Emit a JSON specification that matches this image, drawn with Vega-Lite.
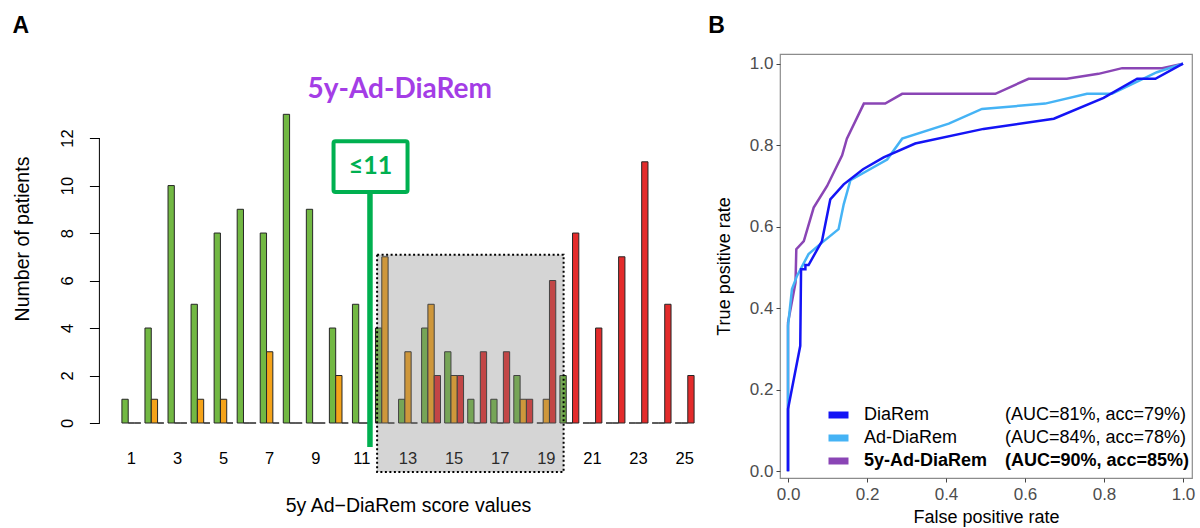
{
  "$schema": "https://vega.github.io/schema/vega-lite/v6.json",
  "background": "white",
  "padding": {"left": 12, "top": 14, "right": 0, "bottom": 0},
  "config": {"view": {"stroke": null}, "font": "Liberation Sans"},
  "spacing": 6,
  "resolve": {"scale": {"color": "independent", "shape": "independent"}, "legend": {"color": "independent", "shape": "independent"}},
  "hconcat": [
    {
      "width": 586,
      "height": 369,
      "title": {"text": "A", "anchor": "start", "frame": "bounds", "fontSize": 23, "fontWeight": "bold", "font": "Liberation Sans", "color": "black", "offset": 16},
      "data": {"values": [
        {"score": 1, "outcome": "Complete remission", "patients": 1}, {"score": 1, "outcome": "Partial remission", "patients": 0}, {"score": 1, "outcome": "No remission", "patients": 0},
        {"score": 2, "outcome": "Complete remission", "patients": 4}, {"score": 2, "outcome": "Partial remission", "patients": 1}, {"score": 2, "outcome": "No remission", "patients": 0},
        {"score": 3, "outcome": "Complete remission", "patients": 10}, {"score": 3, "outcome": "Partial remission", "patients": 0}, {"score": 3, "outcome": "No remission", "patients": 0},
        {"score": 4, "outcome": "Complete remission", "patients": 5}, {"score": 4, "outcome": "Partial remission", "patients": 1}, {"score": 4, "outcome": "No remission", "patients": 0},
        {"score": 5, "outcome": "Complete remission", "patients": 8}, {"score": 5, "outcome": "Partial remission", "patients": 1}, {"score": 5, "outcome": "No remission", "patients": 0},
        {"score": 6, "outcome": "Complete remission", "patients": 9}, {"score": 6, "outcome": "Partial remission", "patients": 0}, {"score": 6, "outcome": "No remission", "patients": 0},
        {"score": 7, "outcome": "Complete remission", "patients": 8}, {"score": 7, "outcome": "Partial remission", "patients": 3}, {"score": 7, "outcome": "No remission", "patients": 0},
        {"score": 8, "outcome": "Complete remission", "patients": 13}, {"score": 8, "outcome": "Partial remission", "patients": 0}, {"score": 8, "outcome": "No remission", "patients": 0},
        {"score": 9, "outcome": "Complete remission", "patients": 9}, {"score": 9, "outcome": "Partial remission", "patients": 0}, {"score": 9, "outcome": "No remission", "patients": 0},
        {"score": 10, "outcome": "Complete remission", "patients": 4}, {"score": 10, "outcome": "Partial remission", "patients": 2}, {"score": 10, "outcome": "No remission", "patients": 0},
        {"score": 11, "outcome": "Complete remission", "patients": 5}, {"score": 11, "outcome": "Partial remission", "patients": 0}, {"score": 11, "outcome": "No remission", "patients": 0},
        {"score": 12, "outcome": "Complete remission", "patients": 4}, {"score": 12, "outcome": "Partial remission", "patients": 7}, {"score": 12, "outcome": "No remission", "patients": 0},
        {"score": 13, "outcome": "Complete remission", "patients": 1}, {"score": 13, "outcome": "Partial remission", "patients": 3}, {"score": 13, "outcome": "No remission", "patients": 0},
        {"score": 14, "outcome": "Complete remission", "patients": 4}, {"score": 14, "outcome": "Partial remission", "patients": 5}, {"score": 14, "outcome": "No remission", "patients": 2},
        {"score": 15, "outcome": "Complete remission", "patients": 3}, {"score": 15, "outcome": "Partial remission", "patients": 2}, {"score": 15, "outcome": "No remission", "patients": 2},
        {"score": 16, "outcome": "Complete remission", "patients": 1}, {"score": 16, "outcome": "Partial remission", "patients": 0}, {"score": 16, "outcome": "No remission", "patients": 3},
        {"score": 17, "outcome": "Complete remission", "patients": 1}, {"score": 17, "outcome": "Partial remission", "patients": 0}, {"score": 17, "outcome": "No remission", "patients": 3},
        {"score": 18, "outcome": "Complete remission", "patients": 2}, {"score": 18, "outcome": "Partial remission", "patients": 1}, {"score": 18, "outcome": "No remission", "patients": 1},
        {"score": 19, "outcome": "Complete remission", "patients": 0}, {"score": 19, "outcome": "Partial remission", "patients": 1}, {"score": 19, "outcome": "No remission", "patients": 6},
        {"score": 20, "outcome": "Complete remission", "patients": 2}, {"score": 20, "outcome": "Partial remission", "patients": 0}, {"score": 20, "outcome": "No remission", "patients": 8},
        {"score": 21, "outcome": "Complete remission", "patients": 0}, {"score": 21, "outcome": "Partial remission", "patients": 0}, {"score": 21, "outcome": "No remission", "patients": 4},
        {"score": 22, "outcome": "Complete remission", "patients": 0}, {"score": 22, "outcome": "Partial remission", "patients": 0}, {"score": 22, "outcome": "No remission", "patients": 7},
        {"score": 23, "outcome": "Complete remission", "patients": 0}, {"score": 23, "outcome": "Partial remission", "patients": 0}, {"score": 23, "outcome": "No remission", "patients": 11},
        {"score": 24, "outcome": "Complete remission", "patients": 0}, {"score": 24, "outcome": "Partial remission", "patients": 0}, {"score": 24, "outcome": "No remission", "patients": 5},
        {"score": 25, "outcome": "Complete remission", "patients": 0}, {"score": 25, "outcome": "Partial remission", "patients": 0}, {"score": 25, "outcome": "No remission", "patients": 2}
      ]},
      "resolve": {"scale": {"x": "independent"}, "axis": {"x": "independent"}},
      "layer": [
        {
          "mark": {"type": "bar", "stroke": "#262626", "strokeWidth": 1},
          "encoding": {
            "x": {"field": "score", "type": "ordinal",
              "scale": {"paddingInner": 0.18, "paddingOuter": 0.3},
              "axis": {"values": [1, 3, 5, 7, 9, 11, 13, 15, 17, 19, 21, 23, 25], "labelAngle": 0, "domain": false, "ticks": false, "labelPadding": 27, "labelFontSize": 16.5, "labelColor": "black", "labelFont": "Liberation Sans",
                "title": "5y Ad−DiaRem score values", "titleFontSize": 19.5, "titleFontWeight": "normal", "titleColor": "black", "titleFont": "Liberation Sans", "titlePadding": 30}},
            "xOffset": {"field": "outcome", "type": "nominal", "scale": {"domain": ["Complete remission", "Partial remission", "No remission"], "paddingInner": 0, "paddingOuter": 0}},
            "y": {"field": "patients", "type": "quantitative",
              "scale": {"domain": [0, 15.54], "nice": false, "zero": false},
              "axis": {"values": [0, 2, 4, 6, 8, 10, 12], "domain": false, "grid": false, "tickSize": 10, "tickColor": "black", "offset": 15.6,
                "labelAngle": -90, "labelAlign": "center", "labelBaseline": "bottom", "labelPadding": 14, "labelFontSize": 16.5, "labelColor": "black", "labelFont": "Liberation Sans",
                "title": "Number of patients", "titleFontSize": 19.5, "titleFontWeight": "normal", "titleColor": "black", "titleFont": "Liberation Sans", "titlePadding": 27}},
            "color": {"field": "outcome", "type": "nominal", "scale": {"domain": ["Complete remission", "Partial remission", "No remission"], "range": ["#72b843", "#f5a31a", "#e32b2b"]}, "legend": null}
          }
        },
        {
          "data": {"values": [{}]},
          "mark": {"type": "rect", "fill": "#808080", "fillOpacity": 0.33, "stroke": "black", "strokeWidth": 2, "strokeDash": [2, 2.5]},
          "encoding": {
            "x": {"datum": 11.66, "type": "quantitative", "scale": {"domain": [0.29, 25.71], "nice": false, "zero": false}, "axis": null},
            "x2": {"datum": 19.75},
            "y": {"datum": 7.09, "type": "quantitative"},
            "y2": {"datum": -2.06}
          }
        },
        {
          "data": {"values": [{}]},
          "mark": {"type": "rule", "color": "black", "strokeWidth": 1},
          "encoding": {
            "x": {"datum": -0.387, "type": "quantitative", "scale": {"domain": [0.29, 25.71], "nice": false, "zero": false}, "axis": null},
            "y": {"datum": 0, "type": "quantitative"},
            "y2": {"datum": 12}
          }
        },
        {
          "data": {"values": [{}]},
          "mark": {"type": "rule", "color": "#00b050", "strokeWidth": 5.5},
          "encoding": {
            "x": {"datum": 11.35, "type": "quantitative", "scale": {"domain": [0.29, 25.71], "nice": false, "zero": false}, "axis": null},
            "y": {"datum": 9.73, "type": "quantitative"},
            "y2": {"datum": -1.01}
          }
        },
        {
          "data": {"values": [{}]},
          "mark": {"type": "rect", "fill": "white", "stroke": "#00b050", "strokeWidth": 4, "cornerRadius": 2},
          "encoding": {
            "x": {"datum": 9.77, "type": "quantitative", "scale": {"domain": [0.29, 25.71], "nice": false, "zero": false}, "axis": null},
            "x2": {"datum": 12.98},
            "y": {"datum": 11.87, "type": "quantitative"},
            "y2": {"datum": 9.73}
          }
        },
        {
          "data": {"values": [{"label": "≤11"}]},
          "mark": {"type": "text", "font": "Lato", "fontWeight": "bold", "fontSize": 25, "color": "#00b050", "align": "center", "baseline": "middle"},
          "encoding": {
            "x": {"datum": 11.37, "type": "quantitative", "scale": {"domain": [0.29, 25.71], "nice": false, "zero": false}, "axis": null},
            "y": {"datum": 10.82, "type": "quantitative"},
            "text": {"field": "label"}
          }
        },
        {
          "data": {"values": [{"label": "5y-Ad-DiaRem"}]},
          "mark": {"type": "text", "font": "Lato", "fontWeight": "bold", "fontSize": 28, "color": "#a43de6", "align": "center", "baseline": "middle"},
          "encoding": {
            "x": {"datum": 12.64, "type": "quantitative", "scale": {"domain": [0.29, 25.71], "nice": false, "zero": false}, "axis": null},
            "y": {"datum": 14.02, "type": "quantitative"},
            "text": {"field": "label"}
          }
        }
      ]
    },
    {
      "width": 412,
      "height": 424,
      "title": {"text": "B", "anchor": "start", "frame": "bounds", "fontSize": 23, "fontWeight": "bold", "font": "Liberation Sans", "color": "black", "offset": 16, "dx": -7},
      "view": {"stroke": "#8c8c8c", "strokeWidth": 1.2},
      "resolve": {"scale": {"color": "independent", "shape": "independent"}, "legend": {"color": "independent", "shape": "independent"}},
      "layer": [
        {
          "data": {"values": [
            {"model": "5y-Ad-DiaRem", "k": 1, "fpr": 0, "tpr": 0},
            {"model": "5y-Ad-DiaRem", "k": 2, "fpr": 0, "tpr": 0.365},
            {"model": "5y-Ad-DiaRem", "k": 3, "fpr": 0.019, "tpr": 0.463},
            {"model": "5y-Ad-DiaRem", "k": 4, "fpr": 0.021, "tpr": 0.545},
            {"model": "5y-Ad-DiaRem", "k": 5, "fpr": 0.04, "tpr": 0.565},
            {"model": "5y-Ad-DiaRem", "k": 6, "fpr": 0.065, "tpr": 0.647},
            {"model": "5y-Ad-DiaRem", "k": 7, "fpr": 0.099, "tpr": 0.7},
            {"model": "5y-Ad-DiaRem", "k": 8, "fpr": 0.137, "tpr": 0.775},
            {"model": "5y-Ad-DiaRem", "k": 9, "fpr": 0.149, "tpr": 0.816},
            {"model": "5y-Ad-DiaRem", "k": 10, "fpr": 0.192, "tpr": 0.902},
            {"model": "5y-Ad-DiaRem", "k": 11, "fpr": 0.246, "tpr": 0.902},
            {"model": "5y-Ad-DiaRem", "k": 12, "fpr": 0.289, "tpr": 0.926},
            {"model": "5y-Ad-DiaRem", "k": 13, "fpr": 0.525, "tpr": 0.926},
            {"model": "5y-Ad-DiaRem", "k": 14, "fpr": 0.609, "tpr": 0.963},
            {"model": "5y-Ad-DiaRem", "k": 15, "fpr": 0.706, "tpr": 0.963},
            {"model": "5y-Ad-DiaRem", "k": 16, "fpr": 0.786, "tpr": 0.975},
            {"model": "5y-Ad-DiaRem", "k": 17, "fpr": 0.846, "tpr": 0.989},
            {"model": "5y-Ad-DiaRem", "k": 18, "fpr": 0.947, "tpr": 0.989},
            {"model": "5y-Ad-DiaRem", "k": 19, "fpr": 1, "tpr": 1},
            {"model": "Ad-DiaRem", "k": 1, "fpr": 0, "tpr": 0},
            {"model": "Ad-DiaRem", "k": 2, "fpr": 0, "tpr": 0.357},
            {"model": "Ad-DiaRem", "k": 3, "fpr": 0.01, "tpr": 0.447},
            {"model": "Ad-DiaRem", "k": 4, "fpr": 0.023, "tpr": 0.48},
            {"model": "Ad-DiaRem", "k": 5, "fpr": 0.052, "tpr": 0.533},
            {"model": "Ad-DiaRem", "k": 6, "fpr": 0.086, "tpr": 0.561},
            {"model": "Ad-DiaRem", "k": 7, "fpr": 0.128, "tpr": 0.594},
            {"model": "Ad-DiaRem", "k": 8, "fpr": 0.141, "tpr": 0.655},
            {"model": "Ad-DiaRem", "k": 9, "fpr": 0.158, "tpr": 0.714},
            {"model": "Ad-DiaRem", "k": 10, "fpr": 0.251, "tpr": 0.765},
            {"model": "Ad-DiaRem", "k": 11, "fpr": 0.289, "tpr": 0.816},
            {"model": "Ad-DiaRem", "k": 12, "fpr": 0.407, "tpr": 0.853},
            {"model": "Ad-DiaRem", "k": 13, "fpr": 0.491, "tpr": 0.889},
            {"model": "Ad-DiaRem", "k": 14, "fpr": 0.651, "tpr": 0.902},
            {"model": "Ad-DiaRem", "k": 15, "fpr": 0.757, "tpr": 0.926},
            {"model": "Ad-DiaRem", "k": 16, "fpr": 0.82, "tpr": 0.926},
            {"model": "Ad-DiaRem", "k": 17, "fpr": 0.934, "tpr": 0.979},
            {"model": "Ad-DiaRem", "k": 18, "fpr": 1, "tpr": 1},
            {"model": "DiaRem", "k": 1, "fpr": 0, "tpr": 0},
            {"model": "DiaRem", "k": 2, "fpr": 0, "tpr": 0.153},
            {"model": "DiaRem", "k": 3, "fpr": 0.031, "tpr": 0.308},
            {"model": "DiaRem", "k": 4, "fpr": 0.033, "tpr": 0.496},
            {"model": "DiaRem", "k": 5, "fpr": 0.044, "tpr": 0.496},
            {"model": "DiaRem", "k": 6, "fpr": 0.044, "tpr": 0.506},
            {"model": "DiaRem", "k": 7, "fpr": 0.052, "tpr": 0.506},
            {"model": "DiaRem", "k": 8, "fpr": 0.086, "tpr": 0.565},
            {"model": "DiaRem", "k": 9, "fpr": 0.107, "tpr": 0.667},
            {"model": "DiaRem", "k": 10, "fpr": 0.141, "tpr": 0.704},
            {"model": "DiaRem", "k": 11, "fpr": 0.19, "tpr": 0.741},
            {"model": "DiaRem", "k": 12, "fpr": 0.242, "tpr": 0.77},
            {"model": "DiaRem", "k": 13, "fpr": 0.322, "tpr": 0.804},
            {"model": "DiaRem", "k": 14, "fpr": 0.495, "tpr": 0.84},
            {"model": "DiaRem", "k": 15, "fpr": 0.673, "tpr": 0.865},
            {"model": "DiaRem", "k": 16, "fpr": 0.799, "tpr": 0.916},
            {"model": "DiaRem", "k": 17, "fpr": 0.884, "tpr": 0.963},
            {"model": "DiaRem", "k": 18, "fpr": 0.93, "tpr": 0.963},
            {"model": "DiaRem", "k": 19, "fpr": 1, "tpr": 1}
          ]},
          "mark": {"type": "line", "strokeWidth": 2.5},
          "encoding": {
            "x": {"field": "fpr", "type": "quantitative",
              "scale": {"domain": [-0.0203, 1.0228], "nice": false, "zero": false},
              "axis": {"values": [0, 0.2, 0.4, 0.6, 0.8, 1], "format": ".1f", "grid": false, "domain": false, "tickSize": 4, "tickColor": "#444444", "labelColor": "#4d4d4d", "labelFontSize": 17, "labelFont": "Liberation Sans", "labelPadding": 4,
                "title": "False positive rate", "titleFontSize": 18, "titleFontWeight": "normal", "titleColor": "black", "titleFont": "Liberation Sans", "titlePadding": 6}},
            "y": {"field": "tpr", "type": "quantitative",
              "scale": {"domain": [-0.0163, 1.0237], "nice": false, "zero": false},
              "axis": {"values": [0, 0.2, 0.4, 0.6, 0.8, 1], "format": ".1f", "grid": false, "domain": false, "tickSize": 4, "tickColor": "#444444", "labelColor": "#4d4d4d", "labelFontSize": 17, "labelFont": "Liberation Sans", "labelPadding": 3,
                "title": "True positive rate", "titleFontSize": 18, "titleFontWeight": "normal", "titleColor": "black", "titleFont": "Liberation Sans", "titlePadding": 16}},
            "color": {"field": "model", "type": "nominal",
              "scale": {"domain": ["DiaRem", "Ad-DiaRem", "5y-Ad-DiaRem"], "range": ["#1414f5", "#45b3f5", "#8a45b5"]},
              "legend": {"orient": "none", "legendX": 45, "legendY": 351, "title": null, "padding": 0,
                "symbolType": "stroke", "symbolSize": 400, "symbolStrokeWidth": 7, "clipHeight": 20, "rowPadding": 3, "labelOffset": 12,
                "labelFontSize": 18, "labelFont": "Liberation Sans", "labelColor": "black", "labelLimit": 300,
                "encode": {"labels": {"update": {"fontWeight": {"signal": "datum.value === '5y-Ad-DiaRem' ? 'bold' : 'normal'"}}}}}},
            "order": {"field": "k"}
          }
        },
        {
          "data": {"values": [
            {"model": "DiaRem", "stat": "(AUC=81%, acc=79%)"},
            {"model": "Ad-DiaRem", "stat": "(AUC=84%, acc=78%)"},
            {"model": "5y-Ad-DiaRem", "stat": "(AUC=90%, acc=85%)"}
          ]},
          "mark": {"type": "point", "opacity": 0, "size": 0},
          "encoding": {
            "shape": {"field": "stat", "type": "nominal",
              "scale": {"domain": ["(AUC=81%, acc=79%)", "(AUC=84%, acc=78%)", "(AUC=90%, acc=85%)"]},
              "legend": {"orient": "none", "legendX": 191, "legendY": 351, "title": null, "padding": 0,
                "symbolOpacity": 0, "symbolSize": 400, "clipHeight": 20, "rowPadding": 3, "labelOffset": 12,
                "labelFontSize": 18, "labelFont": "Liberation Sans", "labelColor": "black", "labelLimit": 300,
                "labelFontWeight": {"expr": "datum.label === '(AUC=90%, acc=85%)' ? 'bold' : 'normal'"}}}
          }
        }
      ]
    }
  ]
}
